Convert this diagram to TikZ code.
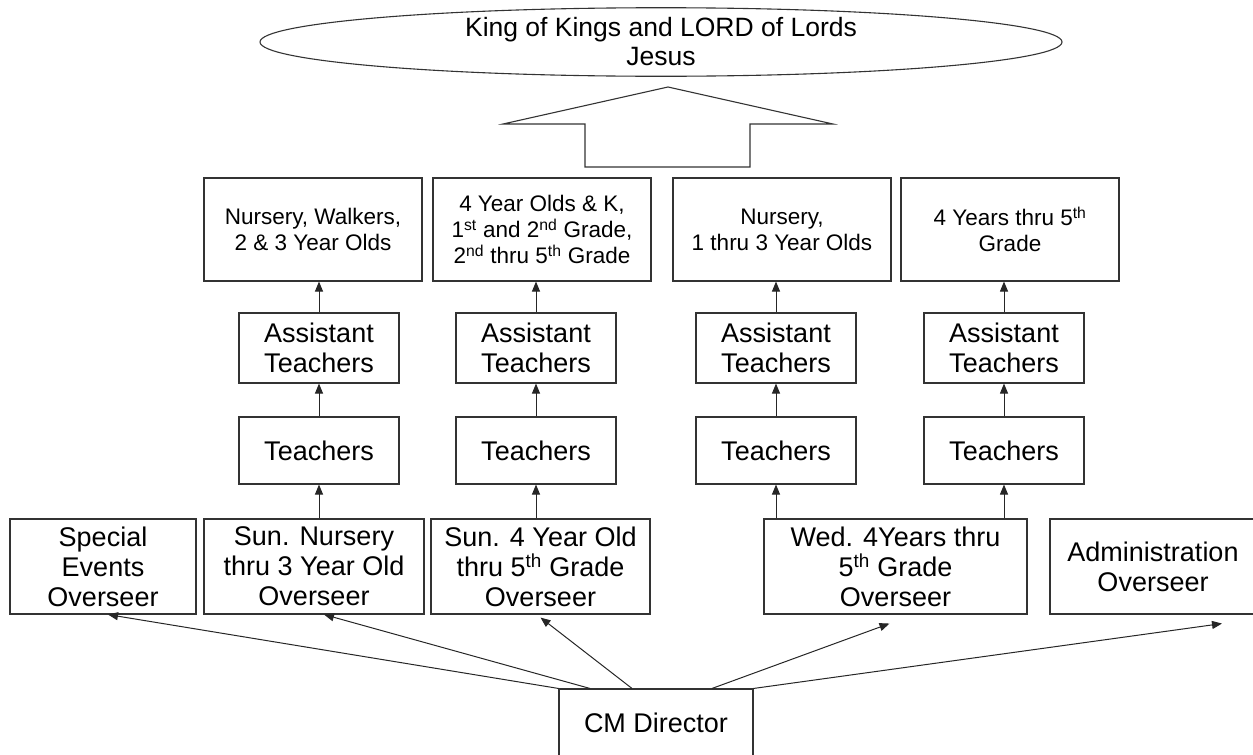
\documentclass[tikz,border=0pt]{standalone}
\usepackage{fontspec}
\setmainfont{Liberation Sans}
\usepackage{tikz}
\usetikzlibrary{shapes.geometric}
\usetikzlibrary{arrows.meta}

\begin{document}
\begin{tikzpicture}[
            x=1pt, y=-1pt,
            box/.style={
                rectangle,
                draw=black!80,
                line width=1.1pt,
                inner sep=0pt,
                align=center,
                font=\fontsize{27}{30}\selectfont
            },
            group/.style={
                box,
                minimum width=218pt,
                minimum height=103pt,
                font=\fontsize{22.5}{26}\selectfont
            },
            staff/.style={box, minimum width=160pt},
            overseer/.style={box, minimum height=95pt},
            link/.style={-{Triangle[length=10pt,width=8pt]}, line width=1pt, draw=black!85}
        ]
            \useasboundingbox (0,0) rectangle (1253,755);

            % Nodes
            \node[ellipse, draw=black!80, line width=1.1pt, inner sep=0pt,
                  minimum width=802pt, minimum height=68pt, align=center,
                  font=\fontsize{26.5}{29}\selectfont] (jesus) at (661,42)
                {King of Kings and LORD of Lords\\Jesus};

            \node[group] (groupA) at (313,229.5) {Nursery, Walkers,\\2 \& 3 Year Olds};
            \node[group] (groupB) at (542,229.5) {4 Year Olds \& K,\\1\textsuperscript{st} and 2\textsuperscript{nd} Grade,\\2\textsuperscript{nd} thru 5\textsuperscript{th} Grade};
            \node[group] (groupC) at (782,229.5) {Nursery,\\1 thru 3 Year Olds};
            \node[group] (groupD) at (1010,229.5) {4 Years thru 5\textsuperscript{th}\\Grade};

            \node[staff, minimum height=70pt] (assistA) at (319,348) {Assistant\\Teachers};
            \node[staff, minimum height=70pt] (assistB) at (536,348) {Assistant\\Teachers};
            \node[staff, minimum height=70pt] (assistC) at (776,348) {Assistant\\Teachers};
            \node[staff, minimum height=70pt] (assistD) at (1004,348) {Assistant\\Teachers};

            \node[staff, minimum height=67pt] (teachA) at (319,450.5) {Teachers};
            \node[staff, minimum height=67pt] (teachB) at (536,450.5) {Teachers};
            \node[staff, minimum height=67pt] (teachC) at (776,450.5) {Teachers};
            \node[staff, minimum height=67pt] (teachD) at (1004,450.5) {Teachers};

            \node[overseer, minimum width=186pt] (special) at (103,566.5) {Special\\Events\\Overseer};
            \node[overseer, minimum width=220pt] (sunnursery) at (314,566.5) {Sun. Nursery\\thru 3 Year Old\\Overseer};
            \node[overseer, minimum width=219pt] (sunfour) at (540.5,566.5) {Sun. 4 Year Old\\thru 5\textsuperscript{th} Grade\\Overseer};
            \node[overseer, minimum width=263pt] (wed) at (895.5,566.5) {Wed. 4Years thru\\5\textsuperscript{th} Grade\\Overseer};
            \node[overseer, minimum width=206pt] (admin) at (1153,566.5) {Administration\\Overseer};

            \node[box, minimum width=194pt, minimum height=80pt, text depth=12pt] (director) at (656,729) {CM Director};

            % Big arrow up to the top
            \draw[draw=black!80, line width=1.1pt, line join=miter]
                (585,167) -- (585,124) -- (503,124) -- (668,87) -- (833,124)
                -- (750,124) -- (750,167) -- cycle;

            % Arrows
            \draw[link] (director.north west) -- ([xshift=5pt]special.south);
            \draw[link] ([xshift=-66pt]director.north) -- ([xshift=10pt]sunnursery.south);
            \draw[link] ([xshift=-24pt]director.north) -- ([yshift=-3pt]sunfour.south);
            \draw[link] ([xshift=56pt]director.north) -- ([xshift=-6pt,yshift=-9pt]wed.south);
            \draw[link] (director.north east) -- ([xshift=69pt,yshift=-9pt]admin.south);

            \draw[link] (teachA.south |- sunnursery.north) -- (teachA.south);
            \draw[link] (teachB.south |- sunfour.north) -- (teachB.south);
            \draw[link] (teachC.south |- wed.north) -- (teachC.south);
            \draw[link] (teachD.south |- wed.north) -- (teachD.south);

            \draw[link] (teachA) -- (assistA);
            \draw[link] (teachB) -- (assistB);
            \draw[link] (teachC) -- (assistC);
            \draw[link] (teachD) -- (assistD);

            \draw[link] (assistA.north) -- (assistA.north |- groupA.south);
            \draw[link] (assistB.north) -- (assistB.north |- groupB.south);
            \draw[link] (assistC.north) -- (assistC.north |- groupC.south);
            \draw[link] (assistD.north) -- (assistD.north |- groupD.south);
        \end{tikzpicture}
\end{document}
